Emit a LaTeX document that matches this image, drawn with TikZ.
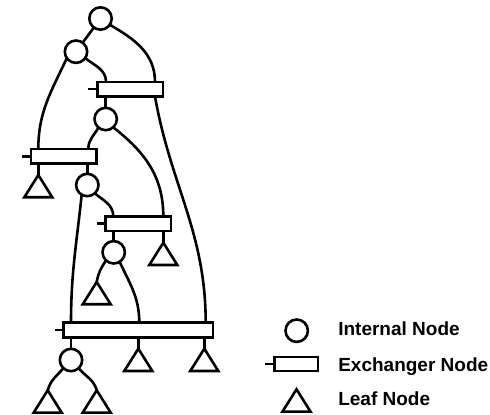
\documentclass[tikz,border=0pt]{standalone}
\usepackage{fontspec}
\setmainfont{Liberation Sans}
\begin{document}
\begin{tikzpicture}[x=1pt,y=1pt,line width=2.6pt,
  internal/.style={draw,circle,minimum size=22.4pt,inner sep=0pt,outer sep=0pt},
  exchanger/.style={draw,rectangle,minimum height=14.6pt,inner sep=0pt,outer sep=0pt,
    append after command={(\tikzlastnode.west) edge ++(-9pt,0)}},
  leaf/.pic={\draw[miter limit=10] (0,0) coordinate (-apex) -- (14,-22.3) -- (-14,-22.3) -- cycle;},
  legendtext/.style={anchor=base west,inner sep=0pt,font=\fontsize{19}{21}\selectfont\bfseries}]
\useasboundingbox (0,0) rectangle (490,415);

% tree nodes
\node[internal] (R1) at (100.5,396.5) {};
\node[internal] (C2) at (76,363.3) {};
\node[exchanger,minimum width=65.6pt] (E1) at (130,325.8) {};
\node[internal] (C3) at (105.7,296) {};
\node[exchanger,minimum width=65.6pt] (E2) at (63.8,258.7) {};
\pic (T1) at (38.3,240) {leaf};
\node[internal] (C4) at (87.3,230) {};
\node[exchanger,minimum width=65.6pt] (E3) at (138.3,191.3) {};
\pic (T2) at (163.3,172.3) {leaf};
\node[internal] (C5) at (113.7,162.7) {};
\pic (T3) at (96.7,133) {leaf};
\node[exchanger,minimum width=149.6pt] (E4) at (138.3,85) {};
\node[internal] (C6) at (71,55) {};
\pic (T4) at (138.3,66.3) {leaf};
\pic (T5) at (204.3,66.3) {leaf};
\pic (T6) at (47.7,24.7) {leaf};
\pic (T7) at (96.7,24.7) {leaf};

% connectors
\draw (R1) -- (C2);
\draw (R1.-34) to[out=-30,in=90] ([xshift=25pt]E1.north);
\draw (C2.-145) to[out=-115,in=90] ([xshift=-25.5pt]E2.north);
\draw (C2.-35) to[out=-38,in=90] ([xshift=-24pt]E1.north);
\draw (C3) -- (C3 |- E1.south);
\draw ([xshift=25pt]E1.south) to[out=-80,in=90] ([xshift=67.4pt]E4.north);
\draw (C3.-130) to[out=-120,in=90] ([xshift=24.5pt]E2.north);
\draw (C3.-48) to[out=-38,in=90] ([xshift=25pt]E3.north);
\draw (C4) -- (C4 |- E2.south);
\draw (T1-apex) -- (T1-apex |- E2.south);
\draw (C4.-120) to[out=-96,in=90] ([xshift=-67.3pt]E4.north);
\draw (C4.-48) to[out=-40,in=90] ([xshift=-25pt]E3.north);
\draw (C5) -- (C5 |- E3.south);
\draw (T2-apex) -- (T2-apex |- E3.south);
\draw (C5.-133) to[out=-125,in=80] (T3-apex);
\draw (C5.-58) to[out=-65,in=90] ([xshift=1pt]E4.north);
\draw (C6) -- (C6 |- E4.south);
\draw (T4-apex) -- (T4-apex |- E4.south);
\draw (T5-apex) -- (T5-apex |- E4.south);
\draw (C6.-133) to[out=-130,in=75] (T6-apex);
\draw (C6.-47) to[out=-50,in=105] (T7-apex);

% legend
\node[internal] (L1) at (296.7,84.3) {};
\node[exchanger,minimum width=43.5pt,minimum height=14pt] (L2) at (296.2,51) {};
\pic (L3) at (296.5,25.7) {leaf};
\node[legendtext] (L1t) at (337,79.7) {Internal Node};
\node[legendtext] (L2t) at (337,43.7) {Exchanger Node};
\node[legendtext] (L3t) at (337,9.3) {Leaf Node};
\end{tikzpicture}
\end{document}
